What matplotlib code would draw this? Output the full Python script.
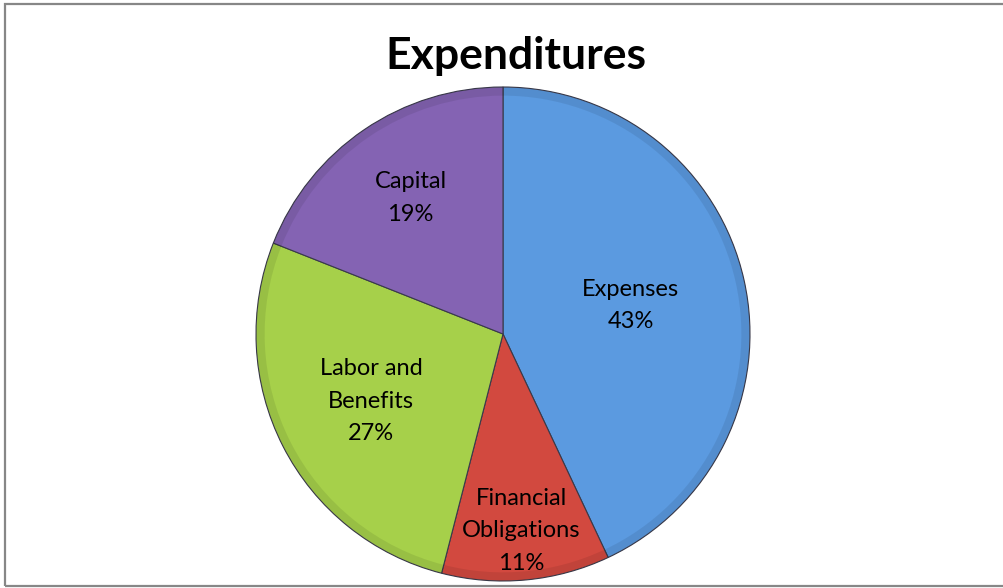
import matplotlib
matplotlib.use("Agg")
import matplotlib.pyplot as plt
import numpy as np
from matplotlib.patches import Rectangle, Wedge

categories = ["Expenses", "Financial\nObligations", "Labor and\nBenefits", "Capital"]
values = [43, 11, 27, 19]
colors = ["#5b9ae0", "#d2493f", "#a6d04a", "#8463b3"]
label_dist = [0.53, 0.80, 0.60, 0.666]

W, H = 1004, 588
fig = plt.figure(figsize=(W / 100, H / 100), dpi=100)
fig.patch.set_facecolor("white")

cx, cy, r = 503, 334, 247
ax = fig.add_axes([(cx - r) / W, (H - cy - r) / H, 2 * r / W, 2 * r / H])
wedges, _ = ax.pie(values, colors=colors, startangle=90, counterclock=False,
                   radius=1, labels=None,
                   wedgeprops=dict(edgecolor="#3a3a4a", linewidth=0.8))
ax.set_xlim(-1.0, 1.0)
ax.set_ylim(-1.0, 1.0)
ax.set_aspect("auto")
ax.axis("off")

# subtle rim shading
for w in wedges:
    ax.add_patch(Wedge((0, 0), 1.0, w.theta1, w.theta2, width=0.035,
                       facecolor="black", alpha=0.08, edgecolor="none"))

for w, cat, v, d in zip(wedges, categories, values, label_dist):
    ang = np.deg2rad((w.theta1 + w.theta2) / 2)
    ax.text(d * np.cos(ang), d * np.sin(ang), f"{cat}\n{v}%", ha="center", va="center",
            fontsize=17, family="Lato", linespacing=1.68, color="black")

fig.text(516 / W, 1 - 56 / H, "Expenditures", ha="center", va="center",
         fontsize=32, fontweight="bold", family="Lato")

fig.patches.append(Rectangle((5 / W, 2 / H), 1.2, 1 - 6 / H, transform=fig.transFigure,
                             fill=False, edgecolor="#878787", linewidth=1.6))

fig.savefig("out.png", dpi=100)
